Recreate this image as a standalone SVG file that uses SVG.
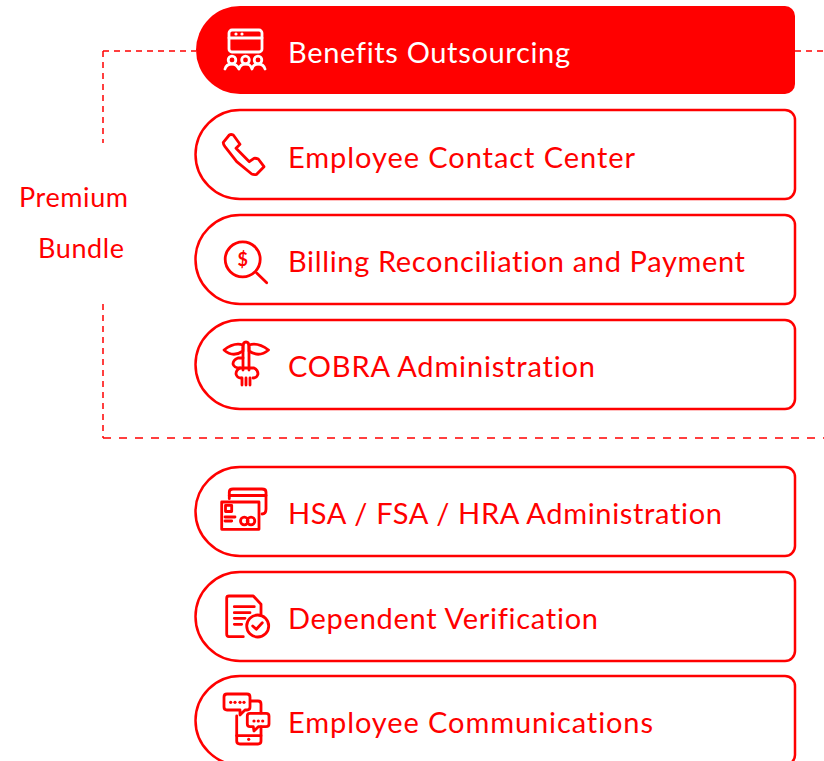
<svg xmlns="http://www.w3.org/2000/svg" width="824" height="761" viewBox="0 0 824 761">
<style>
.t{font-family:"Lato","Noto Sans",sans-serif;font-size:29px;fill:#f00;font-variant-ligatures:none}
.p{fill:#fff;stroke:#f00;stroke-width:2.5}
.i{fill:none;stroke:#f00;stroke-width:2.8;stroke-linecap:round;stroke-linejoin:round}
.w{stroke:#fff}
.d{fill:#f00}
.c{fill:none;stroke:#f00;stroke-width:1.5}
</style>
<rect width="824" height="761" fill="#fff"/>
<g id="connectors">
<path class="c" stroke-dasharray="6 5" d="M103,51H196"/>
<path class="c" stroke-dasharray="6 5" d="M103,51V143"/>
<path class="c" stroke-dasharray="6 5" d="M795,51H824"/>
<path class="c" stroke-dasharray="6 5" d="M103,304V438"/>
<path class="c" stroke-dasharray="8 8" d="M103,438H824"/>
</g>
<g id="premium-bundle">
<text class="t" x="19" y="207" textLength="109" style="font-size:27px">Premium</text>
<text class="t" x="38" y="258" textLength="86" style="font-size:27px">Bundle</text>
</g>
<g id="benefits-outsourcing">
<path fill="#f00" d="M240,6H785a10,10 0 0 1 10,10V84a10,10 0 0 1 -10,10H240a44,44 0 0 1 0,-88Z"/>
<g class="i w">
<rect x="229" y="30" width="33" height="22" rx="3"/>
<path d="M229,38H262"/>
<circle cx="232" cy="60" r="3.800"/><circle cx="245.500" cy="60" r="3.800"/><circle cx="258" cy="60" r="3.800"/>
<path d="M225,69c1,-4 4,-5 7,-5s5,1 7,5c1,-4 3,-5 6.500,-5s5,1 6.500,5c1,-4 3,-5 6,-5s6,1 7,5"/>
</g>
<circle cx="236" cy="34" r="1.600" fill="#fff"/><circle cx="242" cy="34" r="1.600" fill="#fff"/>
<text class="t" x="288" y="62.500" textLength="282" style="fill:#fff">Benefits Outsourcing</text>
</g>
<g id="employee-contact-center">
<path class="p" d="M240,110H785a10,10 0 0 1 10,10V189a10,10 0 0 1 -10,10H240a44.500,44.500 0 0 1 0,-89Z"/>
<path class="i" d="M223.300,142.300L229.300,135Q231,134 233.300,135L240,144.300L236,148.300L249.300,161.700L254,158.300Q256,158 258.300,159L264,166.700L256.700,174.300Q254,175 251.700,174L236.700,161.700L225,146.700Q223,144 223.300,142.300Z"/>
<text class="t" x="288" y="167.500" textLength="347">Employee Contact Center</text>
</g>
<g id="billing-reconciliation">
<path class="p" d="M240,215H785a10,10 0 0 1 10,10V294a10,10 0 0 1 -10,10H240a44.500,44.500 0 0 1 0,-89Z"/>
<circle class="i" cx="242.700" cy="259.300" r="17.500"/>
<path class="i" d="M256.700,273L266.700,282.700"/>
<text x="242.700" y="265.500" text-anchor="middle" style="font-family:Lato,sans-serif;font-size:18px;font-weight:700;fill:#f00">$</text>
<text class="t" x="288" y="271.500" textLength="457">Billing Reconciliation and Payment</text>
</g>
<g id="cobra-administration">
<path class="p" d="M240,320H785a10,10 0 0 1 10,10V399a10,10 0 0 1 -10,10H240a44.500,44.500 0 0 1 0,-89Z"/>
<g class="i">
<path d="M243,370V347Q243,342 246,342Q249,342 249,347V370"/>
<path d="M224,350Q234,342 243,345V351Q233,358 224,350Z"/>
<path d="M268.500,350Q258,342 249,345V351Q259,358 268.500,350Z"/>
<path d="M243,358H238Q233,360 233,364Q234,368 240,368H254Q258,370 258,374Q257,378 253,378"/>
<path d="M240,368Q236,370 236,374Q237,378 241,378"/>
<path d="M242,378V385M246,378V385M250,378V385"/>
</g>
<text class="t" x="288" y="376.500" textLength="307">COBRA Administration</text>
</g>
<g id="hsa-fsa-hra">
<path class="p" d="M240,467H785a10,10 0 0 1 10,10V546a10,10 0 0 1 -10,10H240a44.500,44.500 0 0 1 0,-89Z"/>
<g class="i">
<rect x="221.700" y="502" width="37.300" height="27.300"/>
<path d="M229.300,498.700V492Q229.300,489 233,489H262Q266,489 266,492V509Q266,514 262,514"/>
<path d="M229.300,495.500H266"/>
<rect x="225.500" y="505.300" width="6.200" height="6.200"/>
<path d="M225,517H235M225,521H231.700"/>
<circle cx="244.300" cy="521" r="3.800"/><circle cx="251" cy="521" r="3.800"/>
</g>
<text class="t" x="288" y="523.500" textLength="434">HSA / FSA / HRA Administration</text>
</g>
<g id="dependent-verification">
<path class="p" d="M240,572H785a10,10 0 0 1 10,10V651a10,10 0 0 1 -10,10H240a44.500,44.500 0 0 1 0,-89Z"/>
<g class="i">
<path d="M243.300,636.700H229Q226.700,636.700 226.700,634V598Q226.700,596 229,596H253.300L261,604.300V614"/>
<path d="M234.300,606.700H254.300M234.300,612.700H250M234.300,618.300H245M234.300,624.300H241.700"/>
<circle cx="257.700" cy="626" r="11"/>
<path d="M252.700,626L256.300,629.300L262.300,622.700"/>
</g>
<text class="t" x="288" y="628.500" textLength="310">Dependent Verification</text>
</g>
<g id="employee-communications">
<path class="p" d="M240,676H785a10,10 0 0 1 10,10V755a10,10 0 0 1 -10,10H240a44.500,44.500 0 0 1 0,-89Z"/>
<g class="i">
<path d="M251,701H258Q261,701 261,704V713M261,727V741Q261,744 258,744H240Q236.700,744 236.700,741V716"/>
<path d="M236.700,735.700H261"/>
<path d="M227,694H247Q250,694 250,697V707Q250,710 247,710H245L240,715V710H227Q224,710 224,707V697Q224,694 227,694Z"/>
<path d="M250,713.300H266Q269,713.300 269,716V724Q269,726.700 266,726.700H258.300L254,731L253.300,726.700H250Q247.300,726.700 247.300,724V716Q247.300,713.300 250,713.300Z"/>
</g>
<g class="d">
<circle cx="230.700" cy="702.300" r="1.600"/><circle cx="235" cy="702.300" r="1.600"/><circle cx="240" cy="702.300" r="1.600"/><circle cx="244" cy="702.300" r="1.600"/>
<circle cx="254" cy="721" r="1.600"/><circle cx="258.300" cy="721" r="1.600"/><circle cx="262.700" cy="721" r="1.600"/>
<circle cx="248.700" cy="739.300" r="1.600"/>
</g>
<text class="t" x="288" y="732.500" textLength="365">Employee Communications</text>
</g>
</svg>
